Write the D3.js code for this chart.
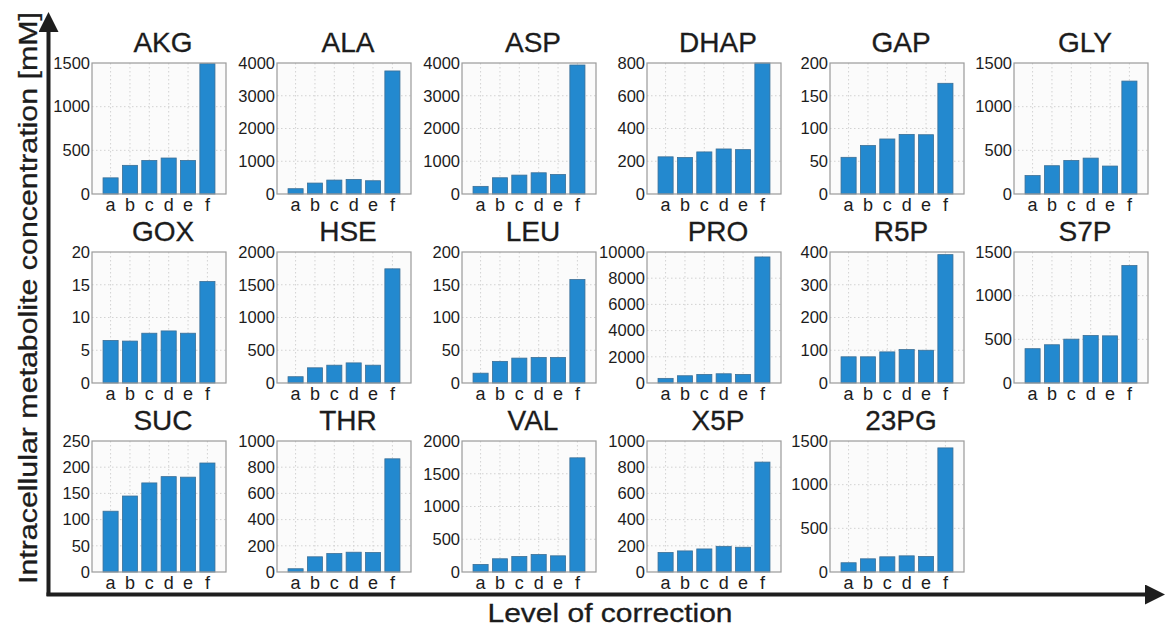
<!DOCTYPE html>
<html>
<head>
<meta charset="utf-8">
<script src="https://cdn.jsdelivr.net/npm/d3@7"></script>
<style>
  html, body { margin: 0; padding: 0; background: #ffffff; }
  svg { display: block; font-family: "Liberation Sans", Arial, Helvetica, sans-serif; }
</style>
</head>
<body>
<svg id="chart" width="1167" height="627"></svg>
<script>
// ---------- data ----------
const categories = ["a", "b", "c", "d", "e", "f"];
const metabolites = ["AKG", "ALA", "ASP", "DHAP", "GAP", "GLY",
                     "GOX", "HSE", "LEU", "PRO", "R5P", "S7P",
                     "SUC", "THR", "VAL", "X5P", "23PG"];

const AKG  = [185, 328, 384, 412, 384, 1492];
const ALA  = [162, 334, 425, 446, 405, 3757];
const ASP  = [233, 496, 577, 648, 597, 3939];
const DHAP = [227, 223, 257, 275, 271, 800];
const GAP  = [56, 74, 84, 91, 90.5, 169];
const GLY  = [211, 324, 384, 411, 320, 1293];
const GOX  = [6.5, 6.4, 7.6, 7.95, 7.6, 15.5];
const HSE  = [96, 232, 272, 307, 272, 1743];
const LEU  = [15, 33, 38, 39, 39, 158];
const PRO  = [353, 554, 655, 705, 655, 9622];
const R5P  = [80, 80, 95, 102, 100, 392];
const S7P  = [393, 438, 502, 544, 540, 1345];
const SUC  = [116, 145, 170, 182, 181, 208];
const THR  = [25, 116, 141, 151, 149, 864];
const VAL  = [116, 202, 237, 267, 247, 1743];
const X5P  = [149, 161, 176, 196, 189, 839];
const PG23 = [106, 151, 174, 185, 178, 1421];

const seriesValues = [AKG, ALA, ASP, DHAP, GAP, GLY, GOX, HSE, LEU, PRO, R5P, S7P, SUC, THR, VAL, X5P, PG23];

// y-axis maxima and tick steps per panel
const yMax  = [1500, 4000, 4000, 800, 200, 1500, 20, 2000, 200, 10000, 400, 1500, 250, 1000, 2000, 1000, 1500];
const yStep = [500, 1000, 1000, 200, 50, 500, 5, 500, 50, 2000, 100, 500, 50, 200, 500, 200, 500];

const yAxisTitle = "Intracellular metabolite concentration [mM]";
const xAxisTitle = "Level of correction";

// ---------- layout ----------
const colLeft = [92, 277, 462, 647, 830, 1014];
const rowTop  = [63, 252, 441];
const pw = 134, ph = 131;

const svg = d3.select("#chart");
const barColor = "#2389cf";
const textColor = "#1c1c1c";

// arrowhead markers
const defs = svg.append("defs");
defs.append("marker")
  .attr("id", "arrow")
  .attr("viewBox", "0 0 10 10")
  .attr("refX", 0).attr("refY", 5)
  .attr("markerUnits", "userSpaceOnUse")
  .attr("markerWidth", 20).attr("markerHeight", 20)
  .attr("orient", "auto")
  .append("path")
  .attr("d", "M0,0 L10,5 L0,10 Z")
  .attr("fill", "#1e1e1e");

// big axes
svg.append("line")
  .attr("x1", 48.5).attr("y1", 596)
  .attr("x2", 48.5).attr("y2", 32)
  .attr("stroke", "#1e1e1e").attr("stroke-width", 4)
  .attr("marker-end", "url(#arrow)");
svg.append("line")
  .attr("x1", 46.5).attr("y1", 594.5)
  .attr("x2", 1145).attr("y2", 594.5)
  .attr("stroke", "#1e1e1e").attr("stroke-width", 4)
  .attr("marker-end", "url(#arrow)");

svg.append("text")
  .attr("transform", "translate(37,298) rotate(-90)")
  .attr("text-anchor", "middle")
  .attr("font-size", 26)
  .attr("fill", textColor)
  .attr("stroke", textColor).attr("stroke-width", 0.3)
  .attr("textLength", 572)
  .attr("lengthAdjust", "spacingAndGlyphs")
  .text(yAxisTitle);

svg.append("text")
  .attr("x", 610).attr("y", 622)
  .attr("text-anchor", "middle")
  .attr("font-size", 26)
  .attr("fill", textColor)
  .attr("stroke", textColor).attr("stroke-width", 0.3)
  .attr("textLength", 245)
  .attr("lengthAdjust", "spacingAndGlyphs")
  .text(xAxisTitle);

// panels
metabolites.forEach((name, i) => {
  const row = Math.floor(i / 6), col = i % 6;
  const left = colLeft[col], top = rowTop[row];
  const g = svg.append("g").attr("transform", `translate(${left},${top})`);

  const x = d3.scaleBand().domain(categories).range([0, pw])
    .paddingInner(0.22).paddingOuter(0.57);
  const y = d3.scaleLinear().domain([0, yMax[i]]).range([ph, 0]);
  const ticks = d3.range(0, yMax[i] + yStep[i] / 2, yStep[i]);

  g.append("rect").attr("width", pw).attr("height", ph).attr("fill", "#fbfbfb");

  // grid
  g.selectAll(".hg").data(ticks.filter(t => t > 0 && t < yMax[i])).enter()
    .append("line")
    .attr("x1", 0).attr("x2", pw)
    .attr("y1", d => y(d)).attr("y2", d => y(d))
    .attr("stroke", "#d2d2d2").attr("stroke-width", 1)
    .attr("stroke-dasharray", "1.5,2.5");
  g.selectAll(".vg").data(categories).enter()
    .append("line")
    .attr("x1", d => x(d) + x.bandwidth() / 2).attr("x2", d => x(d) + x.bandwidth() / 2)
    .attr("y1", 0).attr("y2", ph)
    .attr("stroke", "#d2d2d2").attr("stroke-width", 1)
    .attr("stroke-dasharray", "1.5,2.5");

  // bars
  g.selectAll(".bar").data(seriesValues[i]).enter()
    .append("rect")
    .attr("x", (d, k) => x(categories[k]))
    .attr("width", x.bandwidth())
    .attr("y", d => y(Math.min(d, yMax[i])))
    .attr("height", d => ph - y(Math.min(d, yMax[i])))
    .attr("fill", barColor)
    .attr("stroke", "#3b6f96").attr("stroke-width", 0.8);

  // frame
  g.append("rect").attr("width", pw).attr("height", ph)
    .attr("fill", "none").attr("stroke", "#9a9a9a").attr("stroke-width", 1.2);

  // y ticks labels
  const yAxis = d3.axisLeft(y).tickValues(ticks).tickSize(0).tickPadding(2).tickFormat(d3.format("d"));
  const ya = g.append("g").call(yAxis);
  ya.select(".domain").remove();
  ya.selectAll("text").attr("font-size", 16.5).attr("fill", textColor)
    .attr("font-family", "'Liberation Sans', Arial, sans-serif");

  // x tick labels
  const xAxis = d3.axisBottom(x).tickSize(0).tickPadding(4);
  const xa = g.append("g").attr("transform", `translate(0,${ph})`).call(xAxis);
  xa.select(".domain").remove();
  xa.selectAll("text").attr("font-size", 18).attr("fill", textColor)
    .attr("font-family", "'Liberation Sans', Arial, sans-serif");

  // title
  g.append("text")
    .attr("x", pw / 2 + 4).attr("y", -11)
    .attr("text-anchor", "middle")
    .attr("font-size", 28)
    .attr("fill", textColor)
    .attr("stroke", textColor).attr("stroke-width", 0.3)
    .text(name);
});
</script>
</body>
</html>
